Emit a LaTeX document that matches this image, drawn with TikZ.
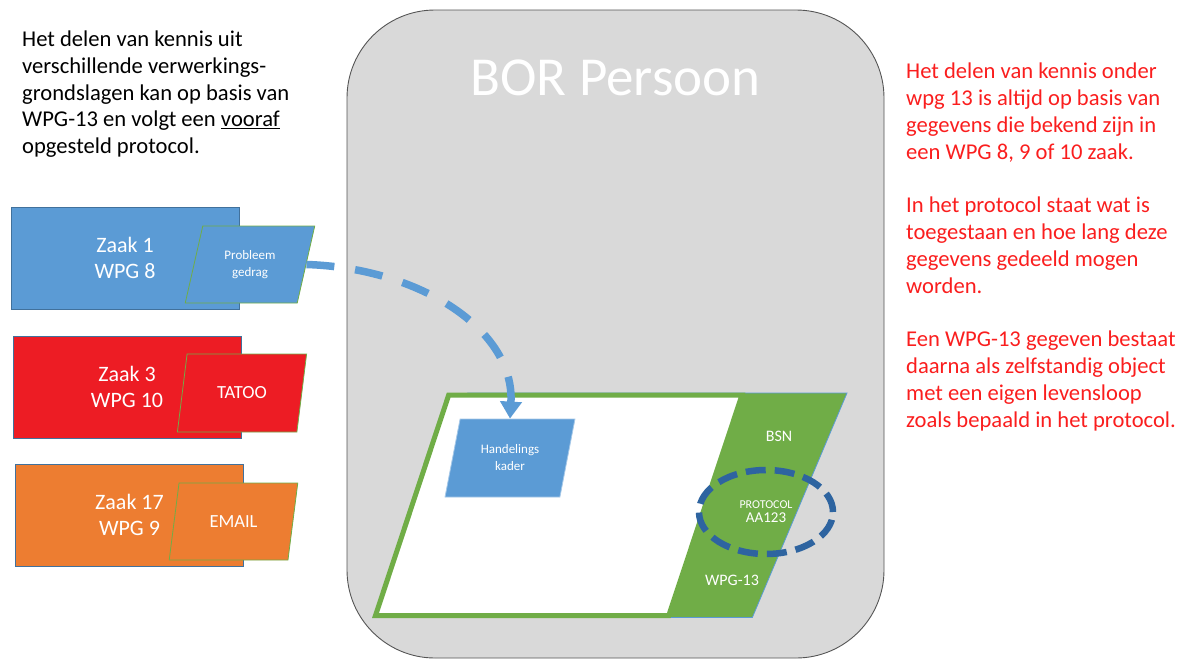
\documentclass[tikz,border=0pt]{standalone}
\usepackage{fontspec}
\setmainfont{Carlito}
\usetikzlibrary{shapes.geometric}
\usetikzlibrary{arrows.meta}

\definecolor{borgray}{RGB}{217,217,217}
\definecolor{bordraw}{RGB}{85,85,85}
\definecolor{kblue}{RGB}{91,155,213}
\definecolor{zborder}{RGB}{65,113,156}
\definecolor{kred}{RGB}{237,28,36}
\definecolor{korange}{RGB}{237,125,49}
\definecolor{kgreen}{RGB}{112,173,71}
\definecolor{protoblue}{RGB}{46,100,160}
\definecolor{textred}{RGB}{250,30,30}

\tikzset{
  zaakbox/.style={rectangle, minimum width=228pt, minimum height=102pt, inner sep=0pt,
    draw=zborder, line width=0.8pt, text=white, align=center, font=\fontsize{22}{26.5}\selectfont},
  slantbox/.style={trapezium, trapezium left angle=72, trapezium right angle=108,
    trapezium stretches=true, inner sep=1pt, draw=kgreen, line width=0.8pt,
    text=white, align=center},
  lbl/.style={text=white, inner sep=0pt}
}

\begin{document}
\begin{tikzpicture}[x=1pt,y=-1pt]
		\useasboundingbox (0,0) rectangle (1184,659);

		% BOR container
		\draw[draw=bordraw, fill=borgray, line width=0.9pt, rounded corners=88pt] (347,10) rectangle (884,658);
		\node[lbl, font=\fontsize{55}{60}\selectfont, anchor=base] (title) at (615.5,95) {BOR Persoon};

		% WPG-13 object
		\node[slantbox, trapezium left angle=71.6, trapezium right angle=108.4, fill=kgreen, draw=kblue,
		      minimum width=474pt, minimum height=224.5pt] (wpg) at (610,505.25) {};
		\node[slantbox, trapezium left angle=71.6, trapezium right angle=108.4, fill=white, draw=kgreen,
		      line width=5pt, minimum width=366.5pt, minimum height=220.5pt] (kader) at (558.75,505.25) {};
		\node[slantbox, fill=kblue, draw=kblue!55!white, minimum width=130pt, minimum height=78pt,
		      font=\fontsize{13}{17}\selectfont] (hand) at (510,458) {Handelings\\kader};
		\node[lbl, font=\fontsize{16}{18}\selectfont] (bsn) at (779,436) {BSN};
		\node[lbl, font=\fontsize{16}{18}\selectfont] (wpglbl) at (732,580) {WPG-13};
		\node[ellipse, draw=protoblue, line width=6.5pt, dash pattern=on 20pt off 9pt, minimum width=134pt,
		      minimum height=84pt, inner sep=0pt, text=white, align=center] (proto) at (766,512)
		      {\fontsize{12}{14}\selectfont PROTOCOL\\[2pt]\fontsize{15}{16}\selectfont AA123};

		% Zaken
		\node[zaakbox, fill=kblue] (zaak1) at (125,258) {Zaak 1\\WPG 8};
		\node[zaakbox, fill=kred] (zaak3) at (127,387) {Zaak 3\\WPG 10};
		\node[zaakbox, fill=korange] (zaak17) at (129.5,515) {Zaak 17\\WPG 9};
		\node[slantbox, fill=kblue, minimum width=130pt, minimum height=77pt,
		      font=\fontsize{13}{17}\selectfont] (prob) at (250,264.5) {Probleem\\gedrag};
		\node[slantbox, fill=kred, minimum width=130pt, minimum height=78pt,
		      font=\fontsize{18.5}{20}\selectfont] (tatoo) at (242,393) {TATOO};
		\node[slantbox, fill=korange, minimum width=129pt, minimum height=77pt,
		      font=\fontsize{18.5}{20}\selectfont] (email) at (233.5,521.5) {EMAIL};

		% Flow
		\draw[draw=kblue, line width=7.5pt, dash pattern=on 28pt off 21pt, -{Triangle[width=21pt,length=17pt]}]
		      (prob.east) .. controls (420,268) and (515,330) .. (hand.north);

		% Texts
		\node[anchor=north west, inner sep=0pt, align=left, font=\fontsize{22.6}{26.6}\selectfont] (intro) at (22,31)
		      {Het delen van kennis uit\\verschillende verwerkings-\\grondslagen kan op basis van\\
		       WPG-13 en volgt een \underline{vooraf}\\opgesteld protocol.};
		\node[anchor=north west, inner sep=0pt, align=left, text=textred, font=\fontsize{22.6}{26.8}\selectfont] (uitleg) at (906,63)
		      {Het delen van kennis onder\\wpg 13 is altijd op basis van\\gegevens die bekend zijn in\\een WPG 8, 9 of 10 zaak.\\[26.8pt]
		       In het protocol staat wat is\\toegestaan en hoe lang deze\\gegevens gedeeld mogen\\worden.\\[26.8pt]
		       Een WPG-13 gegeven bestaat\\daarna als zelfstandig object\\met een eigen levensloop\\zoals bepaald in het protocol.};
\end{tikzpicture}
\end{document}
